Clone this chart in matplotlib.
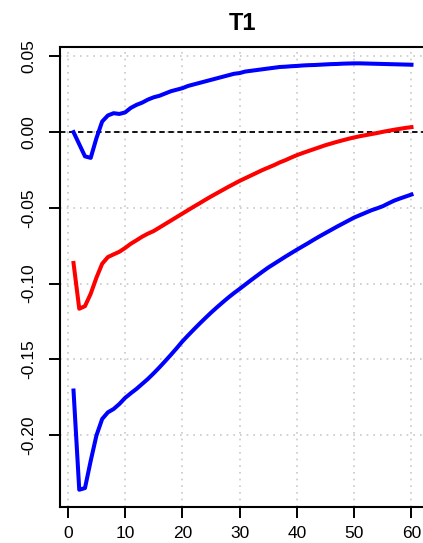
import numpy as np
import matplotlib
matplotlib.use('Agg')
import matplotlib.pyplot as plt

# Datos (horizonte 1..60)
horizonte = np.arange(1, 61)

azul_sup = [0.000, -0.008, -0.016, -0.017, -0.004, 0.007, 0.011, 0.0125, 0.012, 0.013,
            0.016, 0.018, 0.0195, 0.0215, 0.023, 0.024, 0.0255, 0.027, 0.028, 0.029,
            0.0305, 0.0315, 0.0325, 0.0335, 0.0345, 0.0355, 0.0365, 0.0375, 0.0385, 0.039,
            0.040, 0.0405, 0.041, 0.0415, 0.042, 0.0425, 0.043, 0.0432, 0.0435, 0.0437,
            0.044, 0.0442, 0.0443, 0.0445, 0.0447, 0.0449, 0.045, 0.0452, 0.0453, 0.0454,
            0.0454, 0.0453, 0.0452, 0.0451, 0.045, 0.0449, 0.0448, 0.0447, 0.0446, 0.0445]

rojo = [-0.0864, -0.1166, -0.1149, -0.1067, -0.0961, -0.0869, -0.0825, -0.0807, -0.0790, -0.0765,
        -0.0737, -0.0714, -0.0690, -0.0670, -0.0653, -0.0630, -0.0607, -0.0584, -0.0561, -0.0538,
        -0.0515, -0.0492, -0.0470, -0.0447, -0.0425, -0.0404, -0.0383, -0.0362, -0.0342, -0.0322,
        -0.0304, -0.0286, -0.0268, -0.0250, -0.0234, -0.0218, -0.0200, -0.0185, -0.0168, -0.0152,
        -0.0138, -0.0125, -0.0112, -0.0099, -0.0086, -0.0075, -0.0064, -0.0054, -0.0044, -0.0035,
        -0.0027, -0.0020, -0.0013, -0.0006, 0.0002, 0.0009, 0.0016, 0.0022, 0.0028, 0.0033]

azul_inf = [-0.1706, -0.2361, -0.2350, -0.2170, -0.2003, -0.1894, -0.1850, -0.1828, -0.1795, -0.1755,
            -0.1724, -0.1695, -0.1662, -0.1629, -0.1592, -0.1553, -0.1512, -0.1470, -0.1427, -0.1382,
            -0.1342, -0.1303, -0.1265, -0.1228, -0.1192, -0.1158, -0.1125, -0.1093, -0.1063, -0.1035,
            -0.1006, -0.0977, -0.0949, -0.0921, -0.0894, -0.0870, -0.0846, -0.0822, -0.0799, -0.0776,
            -0.0754, -0.0732, -0.0709, -0.0687, -0.0666, -0.0645, -0.0624, -0.0604, -0.0584, -0.0564,
            -0.0548, -0.0532, -0.0516, -0.0503, -0.0489, -0.0470, -0.0452, -0.0438, -0.0425, -0.0412]

xticks = [0, 10, 20, 30, 40, 50, 60]
yticks = [-0.20, -0.15, -0.10, -0.05, 0.00, 0.05]
ylabels = ['-0.20', '-0.15', '-0.10', '-0.05', '0.00', '0.05']

plt.rcParams['font.family'] = ['Liberation Sans', 'DejaVu Sans']

fig = plt.figure(figsize=(4.23, 5.43), dpi=100)
ax = fig.add_axes([60 / 423, 1 - 507 / 543, 365 / 423, 460 / 543])

# Rejilla punteada
for xv in xticks:
    ax.axvline(xv, color='#c8c8c8', lw=1.2, ls=(0, (1, 3)), zorder=0)
for yv in yticks:
    ax.axhline(yv, color='#c8c8c8', lw=1.2, ls=(0, (1, 3)), zorder=0)

ax.axhline(0, color='black', lw=1.3, ls=(0, (3, 2)), zorder=1)

ax.plot(horizonte, azul_sup, color='blue', lw=2.9, zorder=2)
ax.plot(horizonte, rojo, color='red', lw=2.9, zorder=2)
ax.plot(horizonte, azul_inf, color='blue', lw=2.9, zorder=2)

ax.set_xlim(-1.36, 62.36)
ax.set_ylim(-0.2475, 0.0562)
ax.set_xticks(xticks)
ax.set_yticks(yticks)
ax.set_yticklabels(ylabels, rotation=90, va='center')
ax.tick_params(axis='both', labelsize=12.5, length=8, width=1.4)
ax.tick_params(axis='y', pad=9)
ax.tick_params(axis='x', pad=6)
for s in ax.spines.values():
    s.set_linewidth(1.5)

ax.set_title('T1', fontsize=17, fontweight='bold', pad=12)

fig.savefig('out.png', dpi=100)
